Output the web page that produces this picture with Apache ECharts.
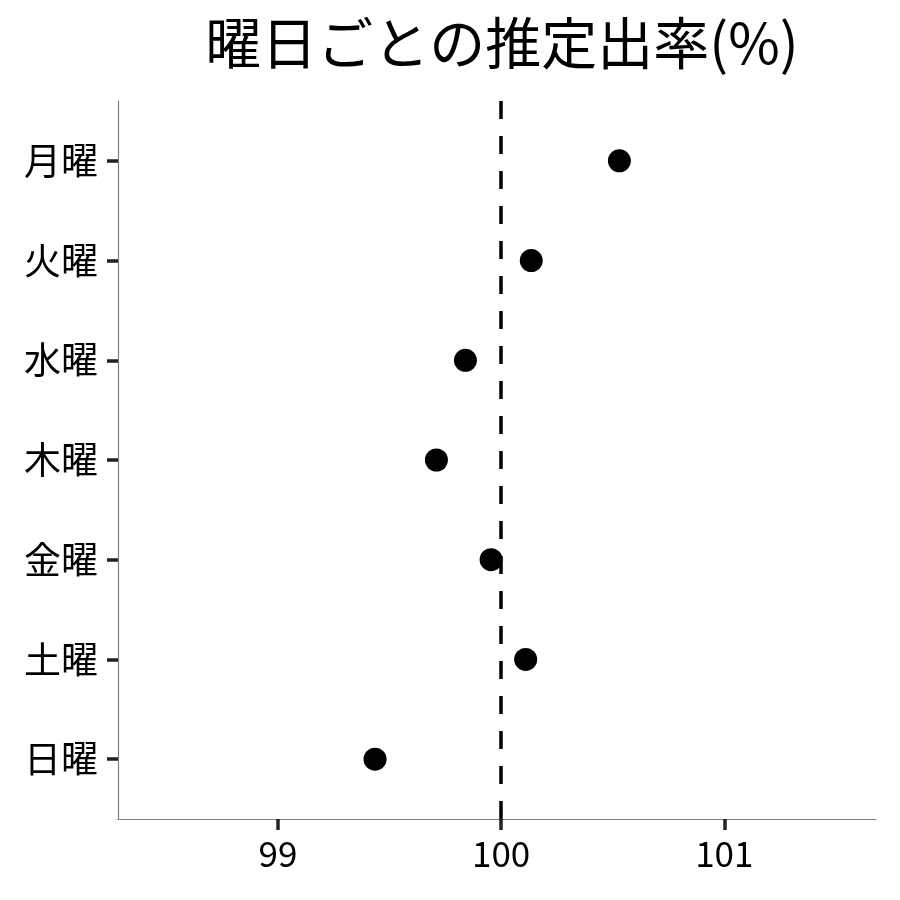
<!DOCTYPE html>
<html>
<head>
<meta charset="utf-8">
<script src="https://cdn.jsdelivr.net/npm/echarts@6/dist/echarts.min.js"></script>
<style>
  html, body { margin: 0; padding: 0; background: #fff; }
  #main { width: 900px; height: 900px; }
</style>
</head>
<body>
<div id="main"></div>
<script>
var days = ['月曜', '火曜', '水曜', '木曜', '金曜', '土曜', '日曜'];
var rates = [100.53, 100.135, 99.84, 99.71, 99.955, 100.11, 99.435];
var xTicks = [99, 100, 101];
var refValue = 100;

var font = '"Noto Sans CJK JP", "Noto Sans", sans-serif';
var points = [];
for (var i = 0; i < days.length; i++) {
  points.push([rates[i], i + 1]);
}
var dayPos = [];
for (var j = 0; j < days.length; j++) {
  dayPos.push(j + 1);
}

var chart = echarts.init(document.getElementById('main'));

chart.setOption({
  animation: false,
  backgroundColor: '#fff',
  title: {
    text: '曜日ごとの推定出率(%)',
    left: 497,
    top: 10,
    textAlign: 'center',
    textStyle: {
      fontFamily: font,
      fontSize: 56,
      fontWeight: 'normal',
      color: '#000'
    }
  },
  grid: {
    left: 118,
    right: 24,
    top: 101,
    bottom: 81
  },
  xAxis: {
    type: 'value',
    min: 98.283,
    max: 101.68,
    axisLine: { show: true, lineStyle: { color: '#808080', width: 1.2 } },
    axisTick: {
      show: true,
      length: 11,
      customValues: xTicks,
      lineStyle: { color: '#222', width: 3.5 }
    },
    axisLabel: {
      customValues: xTicks,
      margin: 17,
      fontFamily: font,
      fontSize: 35,
      color: '#000'
    },
    splitLine: { show: false }
  },
  yAxis: {
    type: 'value',
    inverse: true,
    min: 0.4,
    max: 7.6,
    axisLine: { show: true, lineStyle: { color: '#808080', width: 1.2 } },
    axisTick: {
      show: true,
      length: 11,
      customValues: dayPos,
      lineStyle: { color: '#222', width: 3.5 }
    },
    axisLabel: {
      customValues: dayPos,
      margin: 20,
      fontFamily: font,
      fontSize: 37,
      color: '#000',
      formatter: function (v) { return days[Math.round(v) - 1]; }
    },
    splitLine: { show: false }
  },
  series: [{
    type: 'scatter',
    data: points,
    symbolSize: 23,
    itemStyle: { color: '#000', opacity: 1 },
    markLine: {
      silent: true,
      symbol: 'none',
      label: { show: false },
      lineStyle: { color: '#000', width: 3.5, type: [18, 17] },
      data: [{ xAxis: refValue }]
    }
  }]
});
</script>
</body>
</html>
